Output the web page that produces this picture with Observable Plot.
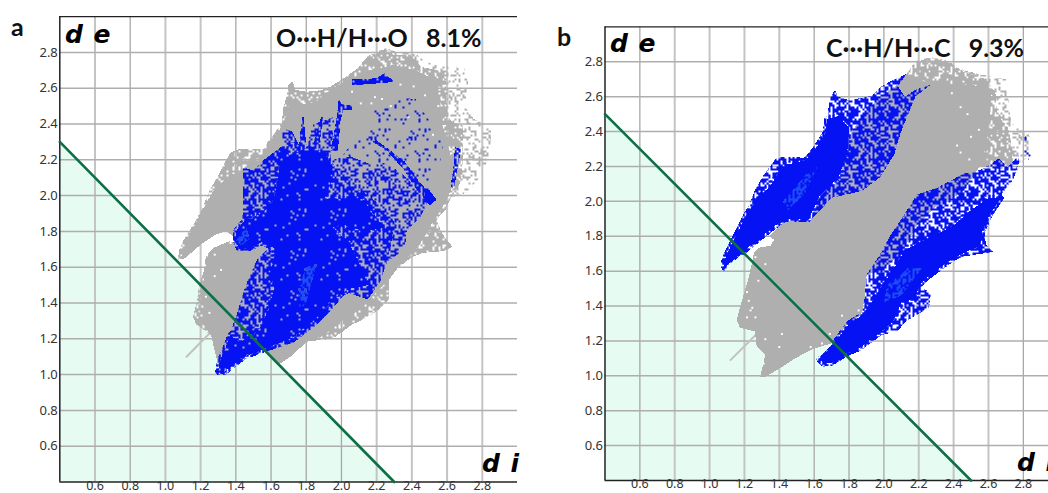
<!DOCTYPE html>
<html><head><meta charset="utf-8">
<script src="https://cdn.jsdelivr.net/npm/d3@7"></script>
<script src="https://cdn.jsdelivr.net/npm/@observablehq/plot@0.6"></script>
<style>
html,body{margin:0;padding:0;background:#fff;overflow:hidden;width:1048px;height:493px}
.p{position:absolute;top:0;width:530px;height:510px;overflow:hidden}
.t{position:absolute;white-space:pre;line-height:1;color:#000}
.h{font:700 25px Lato,sans-serif;color:#111}
.d{font:italic 700 25px "DejaVu Sans",sans-serif;letter-spacing:1px}
.x svg text{fill:#333}
</style></head><body>
<svg width="0" height="0" style="position:absolute"><defs id="defs"></defs></svg>
<div class="p x" id="A" style="left:0"></div>
<div class="p x" id="B" style="left:530px"></div>
<div class="t h" style="left:11px;top:11px">a</div>
<div class="t h" style="left:557px;top:21px">b</div>
<div class="t d" style="left:65px;top:20px">d e</div>
<div class="t d" style="left:610px;top:29px">d e</div>
<div class="t d" style="left:482px;top:449px">d i</div>
<div class="t d" style="left:1017px;top:448px">d i</div>
<div class="t h" style="left:276px;top:22px">O···H/H···O   8.1%</div>
<div class="t h" style="left:826px;top:32px">C···H/H···C   9.3%</div>
<script>
const xTicks=[0.6,0.8,1.0,1.2,1.4,1.6,1.8,2.0,2.2,2.4,2.6,2.8];
const yTicks=[0.6,0.8,1.0,1.2,1.4,1.6,1.8,2.0,2.2,2.4,2.6,2.8];
const thickA=[0.6,1.0,1.2,2.2,2.4,2.6,2.8], thickB=[0.8,1.0,1.2,1.4,2.2,2.4,2.6];
const contactA=[[0.4,2.3],[2.3,0.4]], contactB=[[0.4,2.5],[2.5,0.4]];
const tailA=[[1.12,1.10],[1.25,1.23]], tailB=[[1.12,1.09],[1.27,1.24]];

// Panel a: regions read from the fingerprint (di, de)
const aGraySparse=[[2.15,2.76],[2.24,2.83],[2.32,2.80],[2.42,2.79],[2.52,2.73],[2.62,2.72],[2.70,2.71],[2.72,2.62],[2.70,2.50],[2.75,2.43],[2.85,2.38],[2.85,2.25],[2.80,2.12],[2.72,2.02],[2.60,1.98],[2.55,2.2],[2.5,2.5],[2.3,2.7]];
const aGrayMid=[[1.07,1.64],[1.08,1.70],[1.10,1.745],[1.175,1.865],[1.21,1.93],[1.25,2.03],[1.30,2.11],[1.325,2.165],[1.37,2.24],[1.42,2.26],[1.56,2.26],[1.58,2.30],[1.66,2.40],[1.67,2.49],[1.69,2.56],[1.70,2.62],[1.72,2.64],[1.74,2.59],[1.80,2.58],[1.89,2.59],[1.94,2.61],[2.02,2.66],[2.09,2.71],[2.15,2.78],[2.25,2.82],[2.30,2.785],[2.40,2.785],[2.45,2.72],[2.54,2.70],[2.59,2.66],[2.60,2.45],[2.63,2.41],[2.69,2.395],[2.69,2.20],[2.68,2.08],[2.63,2.00],[2.59,1.92],[2.54,1.865],[2.57,1.79],[2.63,1.715],[2.58,1.69],[2.46,1.68],[2.39,1.65],[2.32,1.595],[2.27,1.53],[2.27,1.42],[2.21,1.36],[2.13,1.31],[2.06,1.28],[1.95,1.20],[1.80,1.185],[1.71,1.10],[1.65,1.06],[1.62,1.07],[1.55,1.14],[1.40,1.10],[1.30,1.05],[1.27,1.175],[1.26,1.22],[1.175,1.28],[1.157,1.325],[1.175,1.39],[1.19,1.49],[1.22,1.585],[1.23,1.66],[1.27,1.707],[1.36,1.744],[1.40,1.74],[1.39,1.77],[1.344,1.80],[1.28,1.78],[1.20,1.725],[1.11,1.65]];
const aGrayCore=[[1.09,1.66],[1.12,1.74],[1.20,1.90],[1.28,2.04],[1.38,2.12],[1.50,2.15],[1.58,2.27],[1.67,2.40],[1.70,2.50],[1.85,2.52],[1.95,2.60],[2.05,2.65],[2.15,2.70],[2.30,2.73],[2.42,2.70],[2.54,2.64],[2.56,2.50],[2.57,2.40],[2.60,2.30],[2.65,2.10],[2.60,1.98],[2.55,1.90],[2.50,1.82],[2.44,1.72],[2.32,1.60],[2.24,1.50],[2.20,1.46],[2.10,1.36],[2.00,1.30],[1.90,1.22],[1.80,1.18],[1.71,1.10],[1.65,1.06],[1.62,1.07],[1.55,1.14],[1.40,1.10],[1.30,1.05],[1.27,1.175],[1.26,1.22],[1.20,1.30],[1.20,1.40],[1.22,1.55],[1.24,1.66],[1.27,1.707],[1.36,1.744],[1.40,1.74],[1.39,1.77],[1.344,1.80],[1.28,1.78],[1.20,1.725],[1.11,1.65]];
const aWhite=[[1.28,1.67],[1.316,1.585],[1.21,1.38],[1.205,1.33],[1.25,1.345],[1.23,1.435],[1.37,1.735],[1.28,1.55],[2.19,2.55],[2.23,2.54],[2.11,2.515],[2.17,2.515],[2.335,2.62],[2.41,2.61],[2.475,2.56],[2.06,2.58],[2.28,2.50],[2.38,2.44],[2.52,2.34],[2.55,2.50]];
const aBlueMid=[[1.39,1.75],[1.44,1.90],[1.44,2.16],[1.50,2.14],[1.56,2.20],[1.655,2.27],[1.72,2.30],[1.80,2.28],[1.94,2.2],[2.00,2.10],[2.12,2.02],[2.22,1.95],[2.30,1.85],[2.28,1.72],[2.26,1.63],[2.22,1.52],[2.15,1.42],[2.03,1.46],[1.96,1.38],[1.85,1.27],[1.73,1.18],[1.58,1.13],[1.447,1.09],[1.335,1.003],[1.288,1.003],[1.297,1.08],[1.344,1.18],[1.40,1.32],[1.447,1.473],[1.484,1.567],[1.52,1.64],[1.62,1.74],[1.485,1.70],[1.42,1.69]];
const aBlueRight=[[1.94,2.2],[2.05,2.22],[2.15,2.18],[2.25,2.18],[2.35,2.12],[2.42,2.05],[2.50,1.98],[2.45,1.88],[2.37,1.80],[2.36,1.70],[2.26,1.63],[2.30,1.85],[2.22,1.95],[2.12,2.02],[2.00,2.10]];
const aWisp1=[[1.66,2.26],[1.66,2.38],[1.72,2.36],[1.76,2.28]];
const aWisp2=[[1.80,2.26],[1.84,2.40],[1.96,2.44],[1.94,2.20]];
const aBlueSolid=[[1.30,1.015],[1.31,1.08],[1.35,1.17],[1.37,1.22],[1.42,1.18],[1.50,1.22],[1.55,1.28],[1.58,1.36],[1.62,1.48],[1.60,1.58],[1.63,1.70],[1.55,1.74],[1.485,1.71],[1.42,1.70],[1.40,1.75],[1.40,1.80],[1.45,1.86],[1.55,1.90],[1.62,1.98],[1.64,2.10],[1.66,2.25],[1.72,2.22],[1.80,2.27],[1.92,2.22],[1.94,2.08],[1.90,1.98],[2.00,1.98],[2.12,1.98],[2.18,1.90],[2.24,1.82],[2.14,1.80],[2.00,1.84],[1.95,1.82],[2.04,1.74],[2.10,1.62],[2.15,1.50],[2.05,1.48],[1.96,1.43],[1.88,1.34],[1.82,1.29],[1.73,1.21],[1.58,1.15],[1.447,1.10],[1.335,1.015]];
const aBlueSparse=[[2.0,2.22],[2.12,2.36],[2.18,2.48],[2.30,2.55],[2.42,2.54],[2.58,2.30],[2.56,2.15],[2.50,2.0],[2.30,2.15],[2.12,2.22]];
const aBlueCluster=[[2.645,2.27],[2.68,2.26],[2.65,2.10],[2.64,2.04],[2.62,2.05],[2.635,2.15]];
const aBlueBand=[[2.06,2.65],[2.2,2.655],[2.245,2.685],[2.30,2.635],[2.24,2.63],[2.12,2.62],[2.06,2.62]];
const aBlueDiag=[[2.17,2.30],[2.20,2.31],[2.36,2.19],[2.44,2.08],[2.53,1.98],[2.50,1.95],[2.43,2.03],[2.35,2.15],[2.25,2.26]];
const aBlueBlob=[[2.48,2.04],[2.50,2.03],[2.54,1.977],[2.50,1.945],[2.47,1.99]];
const aFinger1=[[1.76,2.28],[1.775,2.44],[1.785,2.44],[1.80,2.28]];
const aFinger2=[[1.84,2.28],[1.885,2.44],[1.895,2.44],[1.875,2.28]];
const aFinger3=[[1.94,2.25],[1.97,2.42],[1.985,2.54],[2.0,2.51],[2.06,2.505],[2.06,2.48],[2.01,2.48],[1.995,2.42],[1.98,2.25]];
const aCore1=[[1.40,1.75],[1.43,1.72],[1.48,1.76],[1.46,1.82]];
const aCore2=[[1.76,1.36],[1.80,1.40],[1.86,1.62],[1.80,1.60],[1.76,1.50]];

// Panel b
const bGraySparse=[[2.13,2.73],[2.17,2.80],[2.26,2.83],[2.39,2.80],[2.46,2.75],[2.59,2.72],[2.70,2.70],[2.72,2.55],[2.73,2.45],[2.83,2.40],[2.85,2.30],[2.75,2.15],[2.62,2.22],[2.56,2.40],[2.55,2.62],[2.30,2.72]];
const bGrayMid=[[2.13,2.73],[2.17,2.79],[2.26,2.825],[2.39,2.79],[2.46,2.74],[2.59,2.70],[2.64,2.62],[2.65,2.50],[2.71,2.425],[2.73,2.35],[2.74,2.22],[2.71,2.18],[2.55,2.2],[2.27,2.67]];
const bGrayCore=[[1.34,1.80],[1.41,1.87],[1.43,1.89],[1.58,1.89],[1.626,2.02],[1.74,2.12],[1.81,2.39],[1.90,2.52],[1.98,2.60],[2.08,2.67],[2.13,2.73],[2.27,2.67],[2.42,2.67],[2.59,2.66],[2.62,2.60],[2.60,2.45],[2.58,2.30],[2.55,2.20],[2.45,2.05],[2.3,1.97],[2.18,1.85],[2.10,1.70],[1.98,1.60],[1.90,1.58],[1.89,1.445],[1.87,1.35],[1.79,1.30],[1.71,1.19],[1.585,1.15],[1.49,1.10],[1.415,1.05],[1.32,0.995],[1.29,0.995],[1.32,1.12],[1.27,1.17],[1.26,1.255],[1.175,1.275],[1.155,1.32],[1.185,1.43],[1.225,1.565],[1.255,1.705],[1.285,1.735],[1.35,1.745],[1.37,1.78]];
const bWhite=[[1.215,1.48],[1.225,1.43],[1.245,1.39],[1.215,1.335],[1.263,1.335],[1.235,1.375],[1.28,1.545],[1.32,1.21],[1.415,1.24],[1.40,1.165],[1.31,1.07],[1.58,1.165],[1.645,1.185],[1.69,1.24],[1.76,1.345],[1.855,1.375],[1.32,1.64],[1.263,1.68],[2.44,2.54],[2.39,2.62],[2.48,2.50],[2.44,2.28],[2.49,2.24],[2.50,2.37],[2.42,2.32],[2.545,2.41]];
const bBlueUpper=[[1.08,1.61],[1.07,1.64],[1.085,1.69],[1.145,1.81],[1.205,1.93],[1.263,2.07],[1.31,2.15],[1.35,2.205],[1.39,2.257],[1.55,2.25],[1.59,2.30],[1.665,2.406],[1.675,2.48],[1.69,2.59],[1.72,2.64],[1.74,2.60],[1.80,2.58],[1.93,2.605],[1.98,2.655],[2.04,2.69],[2.13,2.73],[2.08,2.66],[2.12,2.60],[2.18,2.64],[2.27,2.67],[2.18,2.6],[2.14,2.50],[2.095,2.39],[2.06,2.27],[1.98,2.14],[1.875,2.06],[1.70,2.02],[1.58,1.89],[1.43,1.89],[1.355,1.835],[1.28,1.775],[1.19,1.70]];
const bBlueUpperSolid=[[1.085,1.62],[1.08,1.64],[1.095,1.69],[1.155,1.81],[1.215,1.93],[1.28,2.02],[1.34,2.08],[1.39,2.15],[1.44,2.21],[1.55,2.235],[1.60,2.29],[1.665,2.39],[1.675,2.47],[1.74,2.49],[1.80,2.42],[1.79,2.28],[1.74,2.14],[1.63,2.03],[1.57,1.90],[1.43,1.90],[1.355,1.845],[1.28,1.785],[1.19,1.71]];
const bCoreUpper=[[1.42,2.0],[1.55,2.15],[1.62,2.2],[1.55,2.05],[1.45,1.95]];
const bBlueLower=[[1.62,1.095],[1.65,1.06],[1.70,1.065],[1.785,1.12],[1.86,1.15],[1.90,1.18],[1.98,1.23],[2.08,1.26],[2.13,1.315],[2.26,1.39],[2.27,1.47],[2.21,1.515],[2.26,1.565],[2.39,1.66],[2.46,1.685],[2.63,1.71],[2.585,1.755],[2.575,1.83],[2.62,1.93],[2.66,2.02],[2.745,2.13],[2.775,2.22],[2.78,2.27],[2.71,2.195],[2.66,2.245],[2.555,2.18],[2.46,2.16],[2.31,2.08],[2.19,2.04],[2.12,1.93],[2.04,1.81],[1.98,1.70],[1.90,1.58],[1.89,1.445],[1.87,1.35],[1.79,1.30],[1.71,1.19]];
const bBlueLowerSolid=[[1.63,1.095],[1.655,1.07],[1.70,1.075],[1.785,1.13],[1.86,1.16],[1.98,1.25],[2.05,1.31],[2.10,1.42],[2.18,1.44],[2.20,1.515],[2.26,1.575],[2.39,1.67],[2.46,1.705],[2.55,1.745],[2.565,1.83],[2.61,1.93],[2.67,2.02],[2.60,2.02],[2.50,1.95],[2.40,1.86],[2.28,1.80],[2.12,1.72],[2.06,1.62],[1.98,1.50],[1.93,1.42],[1.88,1.35],[1.80,1.30],[1.72,1.19]];
const bBlueTip=[[2.78,2.27],[2.81,2.38],[2.86,2.30],[2.82,2.22]];
const bCoreLower=[[2.0,1.42],[2.1,1.46],[2.22,1.62],[2.14,1.62],[2.02,1.52]];

// Speckle textures (a fixed hand-typed tile, styling only)
const tile=["37190482657310942856","82546019378264705193","15073928461097382640","64928175036489215708","70361549283650174926","29815603749128536047","53472890165703948216","08614357920461827593","41790263584926030781","96253084171835469260","27048619352704186935","83519740268391257046","14682053917640329758","60937421580218764309","75201896434957013682","39846102765082491573","02518734096367245819","48790365121493806257","91364207853726158034","56023981476105972468"];
const GRAY="#afafaf",BLUE="#0412f4",LIGHT="#1e4cf6";
function addPattern(id,color,k){
  let d="";
  for(let j=0;j<40;j++)for(let i=0;i<40;i++){
    const a=+tile[j%20][i%20],b=+tile[(j*3+i)%20][(i*7+j*2)%20],c=+tile[(i+j*2)%20][(j+11)%20];
    if(((a+b)%10)*10+c<k) d+=`M${i*2} ${j*2}h2v2h-2z`;
  }
  const NS="http://www.w3.org/2000/svg";
  const p=document.createElementNS(NS,"pattern");
  p.setAttribute("id",id);p.setAttribute("patternUnits","userSpaceOnUse");p.setAttribute("width",80);p.setAttribute("height",80);
  const a=document.createElementNS(NS,"path");a.setAttribute("d",d);a.setAttribute("fill",color);a.setAttribute("shape-rendering","crispEdges");
  p.appendChild(a);document.getElementById("defs").appendChild(p);
}
addPattern("gS",GRAY,28);addPattern("gM",GRAY,82);addPattern("bL",BLUE,42);addPattern("bM",BLUE,68);addPattern("bD",BLUE,82);addPattern("bS",BLUE,9);addPattern("hG",GRAY,5);addPattern("lM",LIGHT,55);

const poly=(pts,fill,edge)=>Plot.line(pts,{x:d=>d[0],y:d=>d[1],fill,stroke:edge||"none",strokeWidth:edge?6:0,shapeRendering:"crispEdges"});
function panel(o){
  const xy={x:d=>d[0],y:d=>d[1]};
  return Plot.plot({
    width:530,height:510,
    marginLeft:o.ml,marginRight:o.mr,marginTop:o.mt,marginBottom:o.mb+17,
    x:{domain:[0.4,3.0],label:null},y:{domain:[0.4,3.0],label:null},
    style:{background:"transparent",overflow:"visible"},
    marks:[
      Plot.areaY(o.contact,{x:d=>d[0],y1:0.4,y2:d=>d[1],fill:"#e6fbf1"}),
      Plot.ruleX(xTicks.filter(t=>!o.thick.includes(t)),{stroke:"#a8a8a8",strokeWidth:1.3}),
      Plot.ruleX(o.thick,{stroke:"#c4c4c4",strokeWidth:2}),
      Plot.ruleY(yTicks,{stroke:"#aeaeae",strokeWidth:1.5}),
      Plot.ruleY([0.4,3.0],{stroke:"#222",strokeWidth:1.3}),
      Plot.ruleX([0.4],{stroke:"#222",strokeWidth:1.5}),
      Plot.axisX({ticks:xTicks,tickSize:0,tickPadding:0,dy:-1,tickFormat:".1f",fontSize:12.5,label:null}),
      Plot.axisY({ticks:yTicks,tickSize:0,tickPadding:2,tickFormat:".1f",fontSize:13,label:null}),
      Plot.line(o.tail,{...xy,stroke:"#c2c2c2",strokeWidth:2}),
      ...o.layers.map(([p,f])=>poly(p,f)),
      Plot.dot(o.white,{...xy,r:1.1,symbol:"square",fill:"#fff",stroke:"none"}),
      ...o.top.map(([p,f,e])=>poly(p,f,e)),
      Plot.line(o.contact,{...xy,stroke:"#0c6f45",strokeWidth:2.6})
    ]});
}
document.getElementById("A").append(panel({
  ml:59.3,mr:13,mt:16.1,mb:11.5,thick:thickA,contact:contactA,tail:tailA,white:aWhite,
  layers:[[aGraySparse,"url(#gS)"],[aGrayMid,"url(#gM)"],[aGrayCore,GRAY]],
  top:[[aBlueSparse,"url(#bS)"],[aBlueRight,"url(#bL)"],[aBlueMid,"url(#bM)"],[aWisp1,"url(#bL)"],[aWisp2,"url(#bL)"],[aBlueCluster,"url(#bM)"],[aBlueBand,"url(#bD)"],[aBlueDiag,"url(#bM)"],[aBlueSolid,BLUE,"url(#bM)"],[aBlueSolid,"url(#hG)"],[aBlueBlob,BLUE],[aFinger1,"url(#bD)"],[aFinger2,"url(#bD)"],[aFinger3,"url(#bD)"],[aCore1,"url(#lM)"],[aCore2,"url(#lM)"]]
}));
document.getElementById("B").append(panel({
  ml:74.5,mr:2.3,mt:26.4,mb:13,thick:thickB,contact:contactB,tail:tailB,white:bWhite,
  layers:[[bGraySparse,"url(#gS)"],[bGrayMid,"url(#gM)"],[bGrayCore,GRAY]],
  top:[[bBlueUpper,"url(#bM)"],[bBlueLower,"url(#bM)"],[bBlueTip,"url(#bS)"],[bBlueUpperSolid,BLUE,"url(#bM)"],[bBlueLowerSolid,BLUE,"url(#bM)"],[bCoreUpper,"url(#lM)"],[bCoreLower,"url(#lM)"]]
}));
</script>
</body></html>
